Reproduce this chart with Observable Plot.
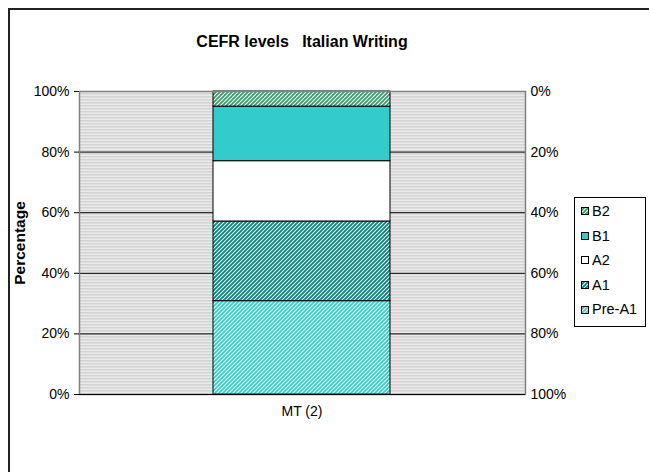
<!DOCTYPE html>
<html><head><meta charset="utf-8">
<script src="https://cdn.jsdelivr.net/npm/d3@7"></script>
<script src="https://cdn.jsdelivr.net/npm/@observablehq/plot@0.6"></script>
<style>
html,body{margin:0;padding:0;background:#fff;overflow:hidden}
#wrap{position:relative;width:649px;height:472px;font-family:"Liberation Sans",Arial,sans-serif;color:#000;overflow:hidden}
#frame{position:absolute;left:8px;top:8px;width:700px;height:520px;border-left:2px solid #222;border-top:2px solid #222}
#title{position:absolute;left:79px;width:446px;top:33px;text-align:center;font-weight:bold;font-size:16px}
#ylab{position:absolute;left:20px;top:243px;transform:translate(-50%,-50%) rotate(-90deg);font-weight:bold;font-size:15.5px;white-space:nowrap}
#legend{position:absolute;left:574px;top:197px;width:72px;height:130px;border:1px solid #000;box-sizing:border-box;background:#fff}
.li{position:absolute;left:6px;font-size:14.5px;line-height:14px;white-space:nowrap}
.li svg{vertical-align:middle;margin-right:3px;position:relative;top:-1px}
#plot{position:absolute;left:0;top:0}
</style></head><body>
<svg width="0" height="0" style="position:absolute">
<defs>
<pattern id="bg" patternUnits="userSpaceOnUse" width="4" height="3">
<rect width="4" height="3" fill="#f4f4f4"/><rect y="0" width="4" height="1" fill="#c8c8c8"/><rect y="2" width="4" height="1" fill="#e0e0e0"/>
</pattern>
<pattern id="pB2" patternUnits="userSpaceOnUse" width="4" height="4">
<rect width="4" height="4" fill="#fff"/><path d="M-1,1 L1,-1 M0,4 L4,0 M3,5 L5,3" stroke="#339966" stroke-width="1.6"/>
</pattern>
<pattern id="pA1" patternUnits="userSpaceOnUse" width="4" height="4">
<rect width="4" height="4" fill="#fff"/><path d="M-1,1 L1,-1 M0,4 L4,0 M3,5 L5,3" stroke="#008080" stroke-width="1.7"/>
</pattern>
<pattern id="pPre" patternUnits="userSpaceOnUse" width="4" height="4">
<rect width="4" height="4" fill="#fff"/><path d="M-1,1 L1,-1 M0,4 L4,0 M3,5 L5,3" stroke="#33cccc" stroke-width="1.7"/>
</pattern>
</defs></svg>
<div id="wrap">
<div id="frame"></div>
<div id="plot"></div>
<div id="title">CEFR levels&nbsp;&nbsp; Italian Writing</div>
<div id="ylab">Percentage</div>
<div id="legend"></div>
</div>
<script>
const categories = ["MT (2)"];
const levels = ["Pre-A1", "A1", "A2", "B1", "B2"];
const values = [30.8, 26.3, 19.9, 18.0, 5.0];
const yTicks = [0, 20, 40, 60, 80, 100];
const gridValues = [20, 40, 60, 80];
const legendOrder = ["B2", "B1", "A2", "A1", "Pre-A1"];

const fills = {"Pre-A1": "url(#pPre)", "A1": "url(#pA1)", "A2": "#ffffff", "B1": "#33cccc", "B2": "url(#pB2)"};
const data = levels.map((l, i) => ({cat: categories[0], level: l, value: values[i]}));

const chart = Plot.plot({
  width: 649, height: 472,
  marginLeft: 79, marginRight: 124, marginTop: 91, marginBottom: 78,
  x: {domain: categories, padding: 0.43, label: null},
  y: {domain: [0, 100], label: null},
  color: {domain: levels, range: levels.map(l => fills[l])},
  style: {fontFamily: '"Liberation Sans", Arial, sans-serif', fontSize: "14px", color: "#000", background: "transparent", overflow: "visible"},
  marks: [
    Plot.frame({fill: "url(#bg)", stroke: null}),
    Plot.ruleY(gridValues, {stroke: "#000", strokeWidth: 1}),
    Plot.barY(data, {x: "cat", y: "value", fill: "level", stroke: "#000", strokeWidth: 1, inset: 0}),
    Plot.frame({stroke: "#808080", strokeWidth: 1.5}),
    Plot.ruleY([0], {stroke: "#000"}),
    Plot.axisY({anchor: "left", ticks: yTicks, tickFormat: d => d + "%", tickSize: 5, tickPadding: 5, label: null, stroke: "#000"}),
    Plot.axisY({anchor: "right", ticks: yTicks, tickFormat: d => (100 - d) + "%", tickSize: 0, tickPadding: 5, label: null}),
    Plot.axisX({tickSize: 0, tickPadding: 12, label: null})
  ]
});
document.getElementById("plot").appendChild(chart);

const lg = document.getElementById("legend");
legendOrder.forEach((l, i) => {
  const d = document.createElement("div");
  d.className = "li";
  d.style.top = (6 + i * 24.6) + "px";
  d.innerHTML = `<svg width="8" height="8"><rect x="0.5" y="0.5" width="7" height="7" fill="${fills[l]}" stroke="#000"/></svg>${l}`;
  lg.appendChild(d);
});
</script>
</body></html>
